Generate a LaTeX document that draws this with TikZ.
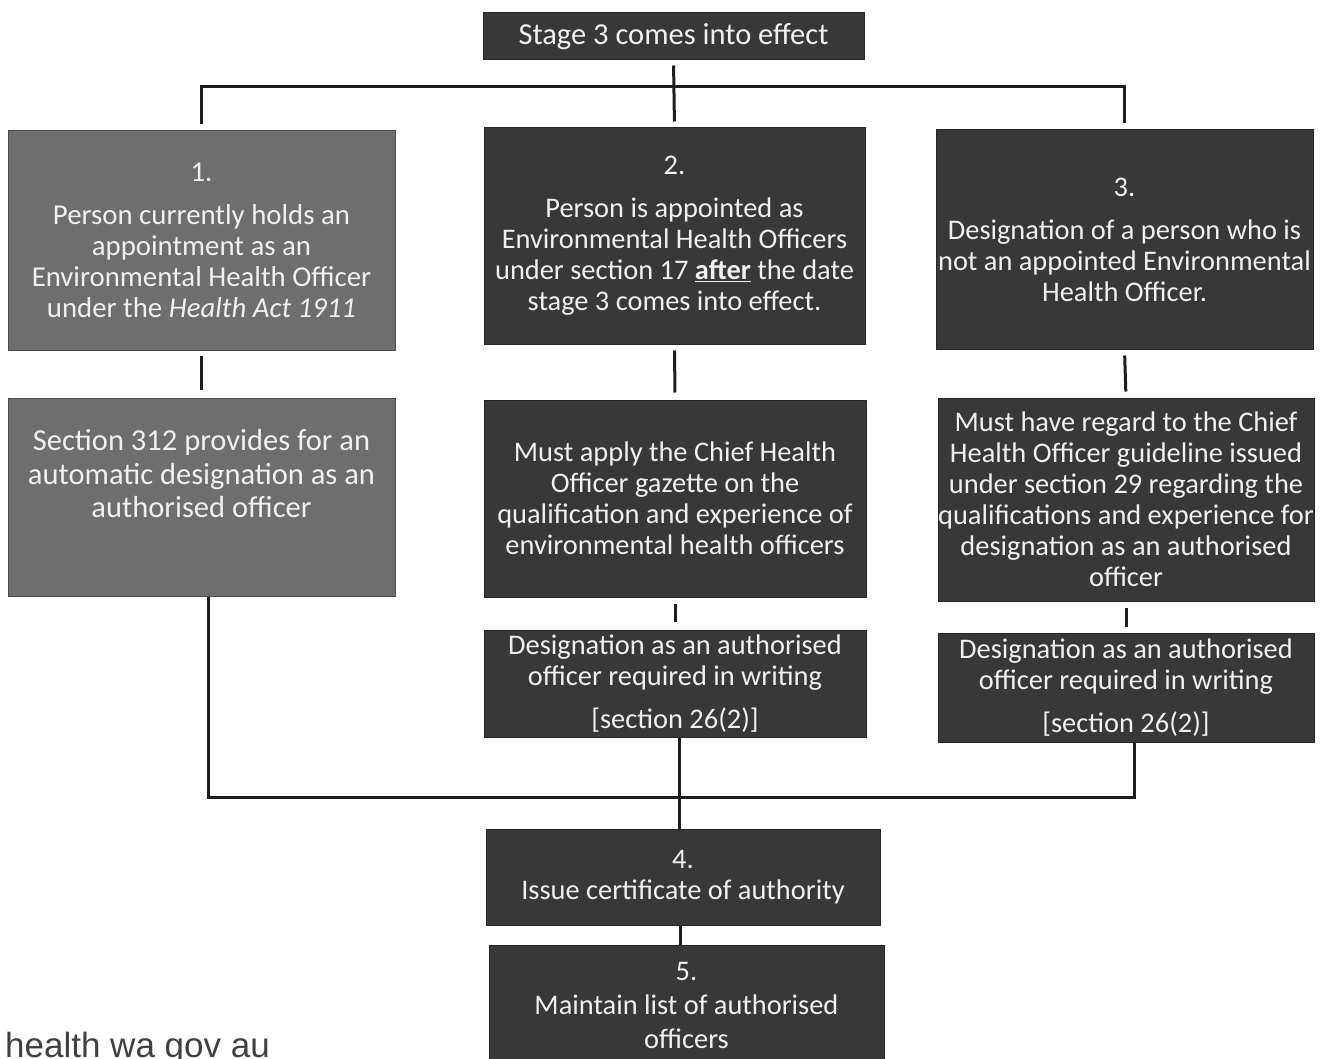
\documentclass[tikz,border=0pt]{standalone}
\usepackage{fontspec}
\setmainfont{Carlito}
\newfontfamily\footfont{Liberation Sans}
\definecolor{darkbox}{HTML}{383838}
\definecolor{midbox}{HTML}{6E6E6E}
\definecolor{boxtext}{HTML}{F0F0F0}
\definecolor{linecol}{HTML}{1E1E1E}
\tikzset{
  box/.style={rectangle, inner sep=0pt, align=center, text=boxtext, font=\fontsize{28.4}{31}\selectfont},
  darkbox/.style={box, fill=darkbox, draw=black!85, line width=1pt},
  midbox/.style={box, fill=midbox, draw=black!70, line width=1pt},
  conn/.style={draw=linecol, line width=3pt},
}
\begin{document}
\begin{tikzpicture}[x=1pt,y={(0pt,-1pt)}]
\useasboundingbox (0,0) rectangle (1325,1059);
% boxes
\node[darkbox, minimum width=381pt, minimum height=47pt, font=\fontsize{30.5}{33}\selectfont] (t) at (673.5,36.5) {Stage 3 comes into effect};
\node[midbox, minimum width=387pt, minimum height=219pt, font=\fontsize{28.8}{31}\selectfont] (b1) at (201.5,240.5)
  {1.\\[12pt]Person currently holds an\\appointment as an\\Environmental Health Officer\\under the \textit{Health Act 1911}};
\node[darkbox, minimum width=381pt, minimum height=216pt] (b2) at (674.5,236)
  {2.\\[12pt]Person is appointed as\\Environmental Health Officers\\under section 17 \textbf{\underline{after}} the date\\stage 3 comes into effect.};
\node[darkbox, minimum width=377pt, minimum height=219pt] (b3) at (1124.5,239.5)
  {3.\\[12pt]Designation of a person who is\\not an appointed Environmental\\Health Officer.};
\node[midbox, minimum width=387pt, minimum height=198pt] (b1b) at (201.5,497) {};
\node[box, font=\fontsize{30.5}{33.5}\selectfont] (b1bt) at (201.5,474)
  {Section 312 provides for an\\automatic designation as an\\authorised officer};
\node[darkbox, minimum width=382pt, minimum height=197pt] (b2b) at (675,498.5)
  {Must apply the Chief Health\\Officer gazette on the\\qualification and experience of\\environmental health officers};
\node[darkbox, minimum width=376pt, minimum height=203pt] (b3b) at (1126,499.5)
  {Must have regard to the Chief\\Health Officer guideline issued\\under section 29 regarding the\\qualifications and experience for\\designation as an authorised\\officer};
\node[darkbox, minimum width=382pt, minimum height=107pt] (b2c) at (675,683.5)
  {Designation as an authorised\\officer required in writing\\[12pt]{[}section 26(2)]};
\node[darkbox, minimum width=376pt, minimum height=109pt] (b3c) at (1126,687.5)
  {Designation as an authorised\\officer required in writing\\[12pt]{[}section 26(2)]};
\node[darkbox, minimum width=394pt, minimum height=96pt] (b4) at (683,877)
  {4.\\Issue certificate of authority};
\node[darkbox, minimum width=395pt, minimum height=120pt, font=\fontsize{28.4}{34}\selectfont] (b5) at (686.5,1005)
  {5.\\Maintain list of authorised\\officers};
\node[anchor=base west, inner sep=0pt, text=black!75, font=\footfont\fontsize{35}{40}\selectfont] (foot) at (5,1057) {health wa gov au};
% connectors
\coordinate (busTop) at (0,87);
\coordinate (busBot) at (0,797);
\draw[conn, shorten <=5pt, shorten >=6pt] (t.south) -- (b2.north);
\draw[conn] ([yshift=6pt]b1.north) -- (b1.north |- busTop) -- (b3.north |- busTop) -- ([yshift=6pt]b3.north);
\draw[conn, shorten <=5pt, shorten >=8pt] (b1.south) -- (b1b.north);
\draw[conn, shorten <=6pt, shorten >=7pt] (b2.south) -- (b2b.north);
\draw[conn, shorten <=6pt, shorten >=6pt] (b3.south) -- (b3b.north);
\draw[conn, shorten <=6pt, shorten >=8pt] (b2b.south) -- (b2c.north);
\draw[conn, shorten <=6pt, shorten >=6pt] (b3b.south) -- (b3c.north);
\coordinate (l1) at ([xshift=6.5pt]b1b.south);
\coordinate (l3) at ([xshift=8pt]b3c.south);
\coordinate (l2) at ([xshift=4pt]b2c.south);
\draw[conn] (l1) -- (l1 |- busBot) -- (l3 |- busBot) -- (l3);
\draw[conn] (l2) -- (l2 |- b4.north);
\draw[conn] ([xshift=-3pt]b4.south) -- ([xshift=-3pt]b4.south |- b5.north);
\end{tikzpicture}
\end{document}
